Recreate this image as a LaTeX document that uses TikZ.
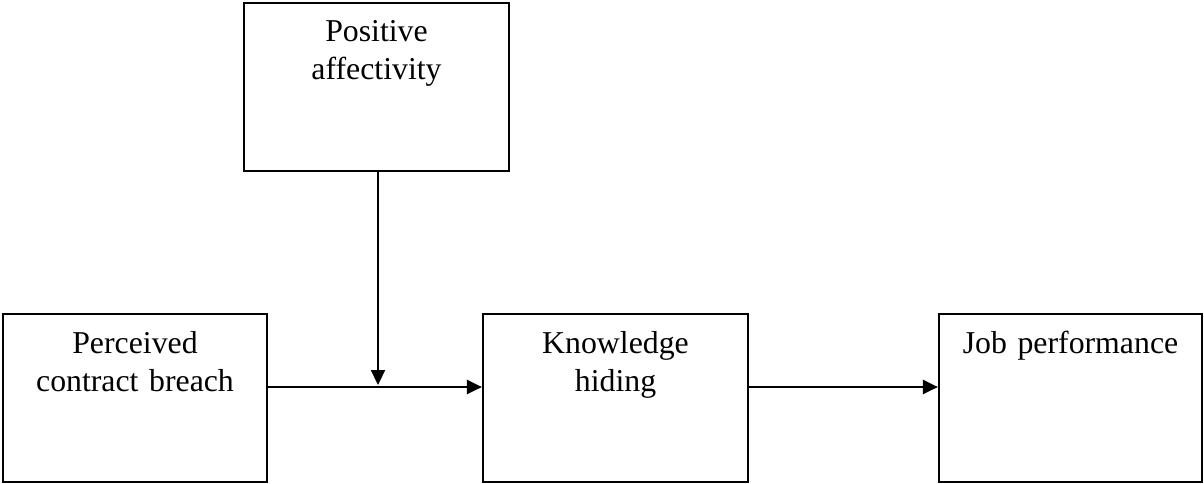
\documentclass[tikz,border=0pt]{standalone}
\usepackage{fontspec}
\setmainfont{Liberation Serif}
\usetikzlibrary{arrows.meta,calc}
\begin{document}
\begin{tikzpicture}[x=1pt,y=-1pt,
  box/.style={draw,line width=2.2pt,minimum height=168pt,inner sep=0pt},
  lbl/.style={anchor=base,align=center,text width=260pt,inner sep=0pt,font=\fontsize{31.8}{37.5}\selectfont},
  arr/.style={line width=2.2pt,-{Triangle[length=15pt,width=14pt]}}]
\useasboundingbox (0,0) rectangle (1204,483);
\node[box,minimum width=265pt] (pa) at (376.5,87) {};
\node[box,minimum width=264pt] (pc) at (135,398) {};
\node[box,minimum width=265pt] (kh) at (615.5,398) {};
\node[box,minimum width=263pt] (jp) at (1070.5,398) {};
\node[lbl] (tpa) at ($(pa.north)+(0,40)$) {Positive\\affectivity};
\node[lbl] (tpc) at ($(pc.north)+(0,41)$) {Perceived\\contract breach};
\node[lbl] (tkh) at ($(kh.north)+(0,41)$) {Knowledge\\hiding};
\node[lbl] (tjp) at ($(jp.north)+(0,41)$) {Job performance};
\coordinate (mid) at (378,387);
\draw[arr] (pc.east |- mid) -- (kh.west |- mid);
\draw[arr] (pa.south -| mid) -- ($(mid)+(0,-2)$);
\draw[arr] (kh.east |- mid) -- (jp.west |- mid);
\end{tikzpicture}
\end{document}
